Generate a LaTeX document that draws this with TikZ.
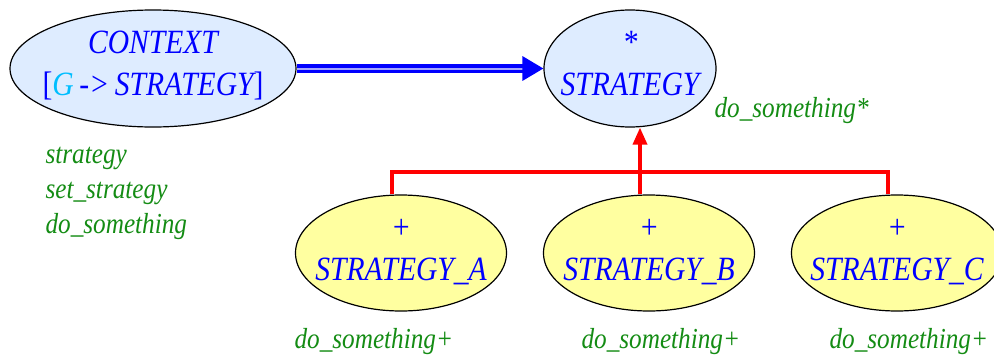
\documentclass[tikz,border=0pt]{standalone}
\usepackage{fontspec}
\setmainfont{Liberation Serif}[FakeStretch=0.87]
\usetikzlibrary{shapes.geometric,arrows.meta}

\definecolor{clsblue}{RGB}{222,236,255}
\definecolor{clsyellow}{RGB}{255,255,160}
\definecolor{featgreen}{RGB}{20,140,20}
\definecolor{gencyan}{RGB}{0,190,255}
% two centred lines of zero width, same height and depth for every class
\newcommand{\clstext}[2]{\rule{0pt}{24pt}\makebox[0pt]{#1}\\\makebox[0pt]{#2}\rule[-12pt]{0pt}{0pt}}

\begin{document}
\begin{tikzpicture}[x=1pt, y=1pt,
    cls/.style={draw, ellipse, line width=1.2pt, inner sep=0pt, align=center, text=blue,
      font=\fontsize{34}{42}\selectfont\itshape},
    deferred/.style={cls, fill=clsblue, minimum height=117pt},
    effective/.style={cls, fill=clsyellow, minimum width=211pt, minimum height=116pt},
    feat/.style={anchor=base west, text=featgreen, align=left,
      font=\fontsize{29}{35}\selectfont\itshape},
    client/.style={draw=blue, line width=3.5pt, double=blue!35, double distance=2pt,
      -{Triangle[length=21pt,width=24pt]}},
    inherit/.style={draw=red, line width=3.5pt}]
  \useasboundingbox (0,0) rectangle (994,-354);

  \node (context) at (153,-68.5) [deferred, minimum width=286pt]
    {\clstext{CONTEXT}{{\upshape[}\textcolor{gencyan}{G}\,->\,STRATEGY{\upshape]}}};
  \node (strategy) at (630,-68.5) [deferred, minimum width=172pt] {\clstext{*}{STRATEGY}};
  \node (stratA) at (401,-253) [effective] {\clstext{+}{STRATEGY\_A}};
  \node (stratB) at (649,-253) [effective] {\clstext{+}{STRATEGY\_B}};
  \node (stratC) at (897,-253) [effective] {\clstext{+}{STRATEGY\_C}};

  % feature lists
  \node (ctxfeat) at (42,-233) [feat] {strategy\\set\_strategy\\do\_something};
  \node (strfeat) at (711,-117) [feat] {do\_something*};
  \node (featA) at (291,-348) [feat] {do\_something+};
  \node (featB) at (578,-348) [feat] {do\_something+};
  \node (featC) at (826,-348) [feat] {do\_something+};

  \draw[client] (context) -- (strategy);

  \coordinate (ja) at ([xshift=-9pt]stratA.north);
  \coordinate (jb) at ([xshift=-9pt]stratB.north);
  \coordinate (jc) at ([xshift=-9pt]stratC.north);
  \coordinate (bar) at (0,-172);
  \draw[inherit] (ja) |- (bar -| jc) -- (jc);
  \draw[inherit, -{Triangle[length=17pt,width=14pt]}] (jb) -- (jb |- strategy.south);
\end{tikzpicture}
\end{document}
